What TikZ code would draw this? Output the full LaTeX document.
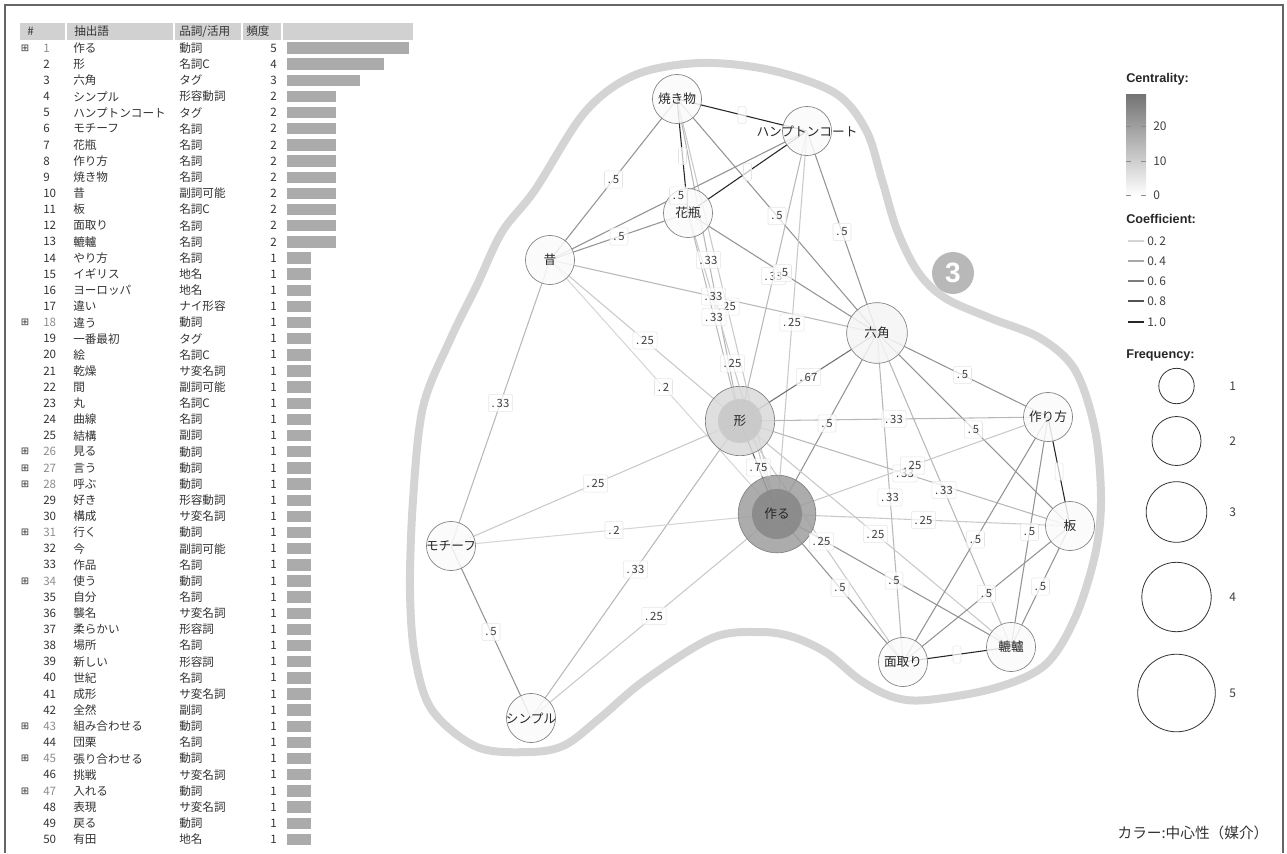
\documentclass[tikz,border=0pt]{standalone}
\usepackage{fontspec}
\setmainfont{Noto Sans CJK JP}
\newfontfamily\headfont{Liberation Sans}
\newfontfamily\symfont{DejaVu Sans}
\usetikzlibrary{backgrounds}
\newcommand\dotnum{.\,}
\newcommand\overtext[1]{\makebox[0pt][c]{#1}}

\begin{document}
\begin{tikzpicture}[x=0.75pt, y=-0.75pt,
  cell/.style={inner sep=0pt, text=black!80, font=\fontsize{8.7}{10}\selectfont},
  head/.style={fill=black!18},
  bar/.style={fill=black!33},
  frame/.style={draw=black!60, line width=1.1pt},
  word/.style={circle, draw=black!50, line width=0.5pt, fill=black!2, fill opacity=.85, text opacity=1,
    text=black!85, inner sep=0pt, minimum size=36.8pt, font=\fontsize{9.5}{11}\selectfont},
  edge/.style={line width=0.8pt},
  lbl/.style={rectangle, rounded corners=1.5pt, draw=black!10, fill=white, fill opacity=.7, text opacity=1,
    text=black!75, inner xsep=2.5pt, inner ysep=1.5pt, minimum height=13pt, minimum width=6pt,
    font=\fontsize{8.5}{9}\selectfont},
  blob/.style={draw=black!17, line width=6pt},
  badge/.style={circle, fill=black!28, text=white, inner sep=0pt, minimum size=31.5pt,
    font=\headfont\bfseries\fontsize{21}{21}\selectfont},
  legendhead/.style={anchor=west, inner sep=0pt, text=black!85, font=\headfont\bfseries\fontsize{9.5}{11}\selectfont},
  legendnum/.style={anchor=west, inner sep=0pt, text=black!75, font=\fontsize{9}{10}\selectfont},
  tick/.style={draw=black!45, line width=0.7pt},
  sizekey/.style={circle, draw=black!80, line width=0.6pt, inner sep=0pt}
]
\useasboundingbox (0,0) rectangle (1287,853);
\draw[frame] (5,853) |- (1283,5) -- (1283,853);

% word table
\fill[head] (20,23) rectangle (413,40);
\foreach \sx in {66,174,242,282} \draw[white, line width=1.2pt] (\sx,23) -- (\sx,40);
\node[cell, anchor=west] (hno) at (27,31.5) {\#};
\node[cell, anchor=west] (hword) at (74,31.5) {抽出語};
\node[cell, anchor=west] (hpos) at (179,31.5) {品詞/活用};
\node[cell, anchor=west] (hfreq) at (246,31.5) {頻度};
\foreach \n/\w/\p/\f/\e in {1/作る/動詞/5/1, 2/形/名詞C/4/0, 3/六角/タグ/3/0, 4/シンプル/形容動詞/2/0,
  5/ハンプトンコート/タグ/2/0, 6/モチーフ/名詞/2/0, 7/花瓶/名詞/2/0, 8/作り方/名詞/2/0, 9/焼き物/名詞/2/0,
  10/昔/副詞可能/2/0, 11/板/名詞C/2/0, 12/面取り/名詞/2/0, 13/轆轤/名詞/2/0, 14/やり方/名詞/1/0,
  15/イギリス/地名/1/0, 16/ヨーロッパ/地名/1/0, 17/違い/ナイ形容/1/0, 18/違う/動詞/1/1, 19/一番最初/タグ/1/0,
  20/絵/名詞C/1/0, 21/乾燥/サ変名詞/1/0, 22/間/副詞可能/1/0, 23/丸/名詞C/1/0, 24/曲線/名詞/1/0,
  25/結構/副詞/1/0, 26/見る/動詞/1/1, 27/言う/動詞/1/1, 28/呼ぶ/動詞/1/1, 29/好き/形容動詞/1/0,
  30/構成/サ変名詞/1/0, 31/行く/動詞/1/1, 32/今/副詞可能/1/0, 33/作品/名詞/1/0, 34/使う/動詞/1/1,
  35/自分/名詞/1/0, 36/襲名/サ変名詞/1/0, 37/柔らかい/形容詞/1/0, 38/場所/名詞/1/0, 39/新しい/形容詞/1/0,
  40/世紀/名詞/1/0, 41/成形/サ変名詞/1/0, 42/全然/副詞/1/0, 43/組み合わせる/動詞/1/1, 44/団栗/名詞/1/0,
  45/張り合わせる/動詞/1/1, 46/挑戦/サ変名詞/1/0, 47/入れる/動詞/1/1, 48/表現/サ変名詞/1/0,
  49/戻る/動詞/1/0, 50/有田/地名/1/0}{
  \pgfmathsetmacro\ry{48+(\n-1)*16.15}
  \ifnum\e=1 \def\numcol{black!45}\node[cell, font=\symfont\fontsize{7.5}{8}\selectfont] (x\n) at (25,\ry) {⊞};
  \else \def\numcol{black!80}\fi
  \node[cell, anchor=west, text=\numcol] (n\n) at (43,\ry) {\n};
  \node[cell, anchor=west] (w\n) at (73,\ry) {\w};
  \node[cell, anchor=west] (p\n) at (179,\ry) {\p};
  \node[cell, anchor=east] (f\n) at (277,\ry) {\f};
  \fill[bar] (287,\ry-5.7) rectangle ++(24.3*\f,11.4);
}

% co-occurrence network
\node[word] (yaki) at (677,99) {\overtext{焼き物}};
\node[word] (hampton) at (807,131) {\overtext{ハンプトンコート}};
\node[word] (kabin) at (688,213) {花瓶};
\node[word] (mukashi) at (550,260) {昔};
\node[word, minimum size=45.5pt, fill=black!4] (rokkaku) at (877,333) {六角};
\node[word, minimum size=52pt, fill=black!15,
  path picture={\fill[black!22] (path picture bounding box.center) circle[radius=16.5pt];}] (katachi) at (740,421) {形};
\node[word] (tsukurikata) at (1048,417) {\overtext{作り方}};
\node[word, minimum size=58.2pt, fill=black!38,
  path picture={\fill[black!47] (path picture bounding box.center) circle[radius=18.8pt];}] (tsukuru) at (777,514) {作る};
\node[word] (ita) at (1070,526) {板};
\node[word] (motif) at (451,546) {\overtext{モチーフ}};
\node[word] (mentori) at (903,662) {\overtext{面取り}};
\node[word] (rokuro) at (1011,647) {轆轤};
\node[word] (simple) at (531,718) {\overtext{シンプル}};
\node[badge] (three) at (953,273) {3};

\begin{pgfonlayer}{background}
\draw[blob] plot[smooth cycle, tension=0.55] coordinates {(700,63) (770,70) (835,93) (866,130) (882,180)
  (897,230) (918,272) (945,298) (990,318) (1040,338) (1075,370) (1095,430) (1101,500) (1095,555)
  (1075,618) (1045,665) (995,688) (927,700) (893,697) (860,680) (827,653) (793,637) (760,632)
  (712,638) (645,680) (600,718) (565,745) (530,752) (477,747) (432,710) (415,657) (410,590)
  (413,500) (423,407) (450,340) (477,285) (502,232) (535,190) (585,112) (635,75)};
\end{pgfonlayer}
\foreach \src/\dst/\coef/\lab in {yaki/hampton/1/{}, yaki/kabin/1/{}, hampton/kabin/1/{},
  yaki/mukashi/0.5/{\dotnum 5}, yaki/rokkaku/0.5/{\dotnum 5}, yaki/katachi/0.33/{\dotnum 33},
  yaki/tsukuru/0.25/{\dotnum 25}, hampton/mukashi/0.5/{\dotnum 5}, hampton/rokkaku/0.5/{\dotnum 5},
  hampton/katachi/0.33/{\dotnum 33}, hampton/tsukuru/0.25/{\dotnum 25}, kabin/mukashi/0.5/{\dotnum 5},
  kabin/rokkaku/0.5/{\dotnum 5}, kabin/katachi/0.33/{\dotnum 33}, kabin/tsukuru/0.25/{\dotnum 25},
  mukashi/rokkaku/0.33/{\dotnum 33}, mukashi/katachi/0.25/{\dotnum 25}, mukashi/tsukuru/0.2/{\dotnum 2},
  mukashi/motif/0.33/{\dotnum 33}, rokkaku/katachi/0.67/{\dotnum 67}, rokkaku/tsukuru/0.5/{\dotnum 5},
  rokkaku/tsukurikata/0.5/{\dotnum 5}, rokkaku/ita/0.5/{\dotnum 5}, rokkaku/mentori/0.33/{\dotnum 33},
  rokkaku/rokuro/0.33/{\dotnum 33}, katachi/tsukuru/0.75/{\dotnum 75}, katachi/tsukurikata/0.33/{\dotnum 33},
  katachi/ita/0.33/{\dotnum 33}, katachi/rokuro/0.25/{\dotnum 25}, katachi/mentori/0.25/{\dotnum 25},
  katachi/motif/0.25/{\dotnum 25}, katachi/simple/0.33/{\dotnum 33}, tsukuru/tsukurikata/0.25/{\dotnum 25},
  tsukuru/ita/0.25/{\dotnum 25}, tsukuru/mentori/0.5/{\dotnum 5}, tsukuru/rokuro/0.5/{\dotnum 5},
  tsukuru/motif/0.2/{\dotnum 2}, tsukuru/simple/0.25/{\dotnum 25}, tsukurikata/ita/1/{},
  tsukurikata/mentori/0.5/{\dotnum 5}, tsukurikata/rokuro/0.5/{\dotnum 5}, ita/mentori/0.5/{\dotnum 5},
  ita/rokuro/0.5/{\dotnum 5}, mentori/rokuro/1/{}, motif/simple/0.5/{\dotnum 5}}{
  \pgfmathtruncatemacro\tone{85*\coef}
  \begin{pgfonlayer}{background}
    \draw[edge, draw=black!\tone] (\src.center) -- (\dst.center);
  \end{pgfonlayer}
  \path (\src.center) -- node[lbl] (\src-\dst) {\lab} (\dst.center);
}

% legend
\node[legendhead] (chead) at (1126,79) {Centrality:};
\shade[top color=black!55, bottom color=white] (1126,94) rectangle (1146,196);
\foreach \v/\ty in {20/126, 10/161, 0/195}{
  \draw[tick] (1126,\ty) -- ++(5,0);
  \draw[tick] (1141,\ty) -- ++(5,0);
  \node[legendnum] (cv\v) at (1153,\ty) {\v};
}
\node[legendhead] (khead) at (1126,219) {Coefficient:};
\foreach \lab/\ty/\tone in {{0\dotnum 2}/241/17, {0\dotnum 4}/261/34, {0\dotnum 6}/281/51,
  {0\dotnum 8}/301/68, {1\dotnum 0}/322/85}{
  \draw[edge, draw=black!\tone] (1128,\ty) -- (1144,\ty);
  \node[legendnum] (kv\ty) at (1147,\ty) {\lab};
}
\node[legendhead] (fhead) at (1126,355) {Frequency:};
\foreach \f/\ty/\r in {1/386/17.7, 2/441/24.5, 3/512/30.3, 4/597/34.7, 5/693/38.8}{
  \node[sizekey, minimum size=\r*1.5pt] (fk\f) at (1176.5,\ty) {};
  \node[legendnum] (fv\f) at (1229,\ty) {\f};
}
\node[inner sep=0pt, text=black!80, font=\fontsize{11}{12}\selectfont] (note) at (1193,833) {カラー:中心性（媒介）};
\end{tikzpicture}
\end{document}
